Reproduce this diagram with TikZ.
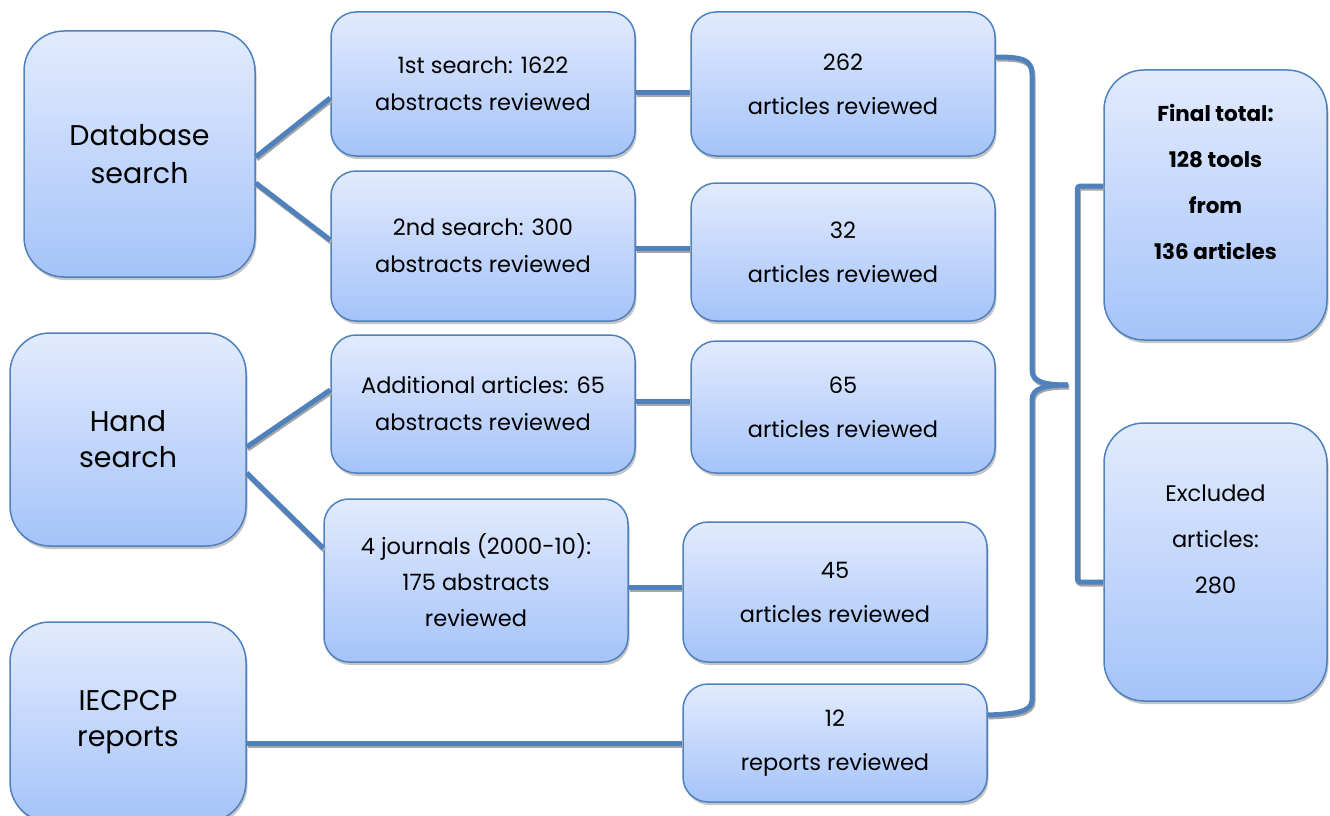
\documentclass[tikz,border=0pt]{standalone}
\usepackage{fontspec}
\setmainfont{Poppins}
\usetikzlibrary{shadows}
\definecolor{linkblue}{HTML}{4F81BD}
\definecolor{boxtop}{HTML}{E2EBFD}
\definecolor{boxbot}{HTML}{A5C3F9}
\begin{document}
\begin{tikzpicture}[x=1pt,y=-1pt]
		\tikzset{
			box/.style ={
				rectangle, %矩形节点
				rounded corners=25pt, %圆角
				draw=linkblue, %边框颜色
				line width=1.5pt,
				top color=boxtop, %上方颜色
				bottom color=boxbot, %下方颜色
				drop shadow={shadow xshift=1.5pt, shadow yshift=-3pt, fill=black!45},
				align=center,
				inner sep=3pt, %文字和边框的距离
				font=\fontsize{22.5pt}{37pt}\selectfont
			},
			link/.style ={
				draw=linkblue, %线条颜色
				line width=5pt,
				preaction={draw=black!35, line width=5pt, transform canvas={xshift=1pt,yshift=-2pt}}
			}
		}
		\useasboundingbox (0,0) rectangle (1330,816);
		% 左列
		\node[box, rounded corners=40pt, minimum width=231pt, minimum height=246pt, font=\fontsize{28.5pt}{38pt}\selectfont] (1) at(139.5,154){Database\\search};
		\node[box, rounded corners=40pt, minimum width=236pt, minimum height=213pt, font=\fontsize{28.5pt}{36pt}\selectfont] (2) at(128,439.5){Hand\\search};
		\node[box, rounded corners=40pt, minimum width=236pt, minimum height=200pt, font=\fontsize{28.5pt}{36pt}\selectfont] (3) at(128,722){IECPCP\\reports};
		% 第二列
		\node[box, minimum width=304pt, minimum height=144pt] (4) at(483,84){1st search: 1622\\abstracts reviewed};
		\node[box, minimum width=304pt, minimum height=150pt] (5) at(483,246){2nd search: 300\\abstracts reviewed};
		\node[box, minimum width=304pt, minimum height=138pt] (6) at(483,404){Additional articles: 65\\abstracts reviewed};
		\node[box, minimum width=304pt, minimum height=163pt, font=\fontsize{22.5pt}{36pt}\selectfont] (7) at(476,580.5){4 journals (2000-10):\\175 abstracts\\reviewed};
		% 第三列
		\node[box, minimum width=304pt, minimum height=144pt, font=\fontsize{22.5pt}{44pt}\selectfont] (8) at(843,84){262\\articles reviewed};
		\node[box, minimum width=304pt, minimum height=138pt, font=\fontsize{22.5pt}{44pt}\selectfont] (9) at(843,252){32\\articles reviewed};
		\node[box, minimum width=304pt, minimum height=132pt, font=\fontsize{22.5pt}{44pt}\selectfont] (10) at(843,407){65\\articles reviewed};
		\node[box, minimum width=304pt, minimum height=140pt, font=\fontsize{22.5pt}{44pt}\selectfont] (11) at(835,592){45\\articles reviewed};
		\node[box, minimum width=304pt, minimum height=118pt, font=\fontsize{22.5pt}{44pt}\selectfont] (12) at(835,743){12\\reports reviewed};
		% 右列
		\node[box, rounded corners=40pt, minimum width=223pt, minimum height=270pt, font=\fontsize{21.5pt}{46pt}\selectfont\bfseries] (13) at(1215.5,205){Final total:\\128 tools\\from\\136 articles\\\mbox{}};
		\node[box, rounded corners=40pt, minimum width=223pt, minimum height=278pt, font=\fontsize{22.5pt}{46pt}\selectfont] (14) at(1215.5,562){Excluded\\articles:\\280\\\mbox{}};
		\coordinate (tip) at(1068,385);
		\draw[link] ([yshift=-3pt]1.east)--([yshift=-14pt]4.west);
		\draw[link] ([yshift=-29pt]1.east)--([yshift=6pt]5.west);
		\draw[link] ([yshift=-7.5pt]2.east)--([yshift=14pt]6.west);
		\draw[link] ([yshift=-33.5pt]2.east)--([yshift=32.5pt]7.west);
		\draw[link] ([yshift=-21pt]3.east)--(12.west);
		\draw[link] ([yshift=-8pt]4.east)--([yshift=-8pt]8.west);
		\draw[link] ([yshift=-2pt]5.east)--([yshift=4pt]9.west);
		\draw[link] ([yshift=3pt]6.east)--([yshift=6pt]10.west);
		\draw[link] ([yshift=-6.5pt]7.east)--([yshift=5pt]11.west);
		% 大括号
		\draw[link] ([yshift=27pt]8.east) .. controls (1024,57) and (1032,60) .. (1032,75) -- (1032,370) .. controls (1032,382) and (1045,385) .. (tip);
		\draw[link] (tip) .. controls (1045,385) and (1032,388) .. (1032,400) -- (1032,700) .. controls (1032,712) and (1015,714) .. ([yshift=28pt]12.east);
		\draw[link, rounded corners=3pt] ([yshift=19pt]13.west)--++(-26,0) |- ([yshift=-20pt]14.west);
	\end{tikzpicture}
\end{document}
